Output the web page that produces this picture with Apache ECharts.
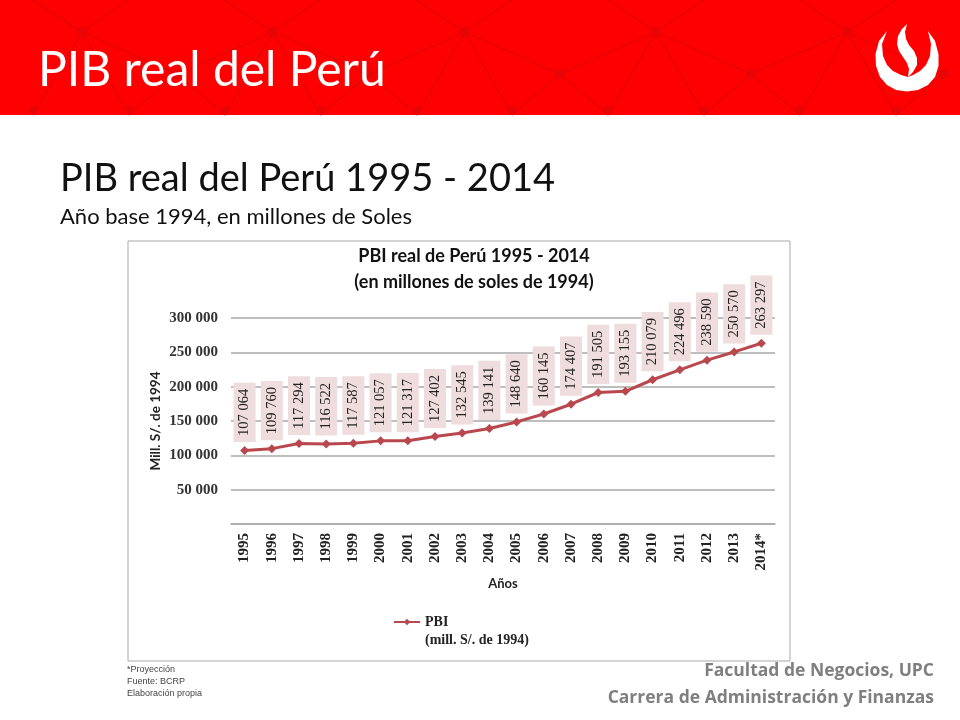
<!doctype html>
<html lang="es">
<head>
<meta charset="utf-8">
<script src="https://cdn.jsdelivr.net/npm/echarts@6/dist/echarts.min.js"></script>
<style>
    html, body { margin: 0; padding: 0; background: #fff; }
</style>
</head>
<body>
<div id="main" style="width: 960px; height: 720px;"></div>

<script type="text/javascript">
    var years = ['1995','1996','1997','1998','1999','2000','2001','2002','2003','2004','2005','2006','2007','2008','2009','2010','2011','2012','2013','2014*'];
    var pbi = [107064,109760,117294,116522,117587,121057,121317,127402,132545,139141,148640,160145,174407,191505,193155,210079,224496,238590,250570,263297];

    var sans = 'Lato, "Open Sans", sans-serif';
    var serif = '"Liberation Serif", serif';
    var lineColor = '#b9484e';

    // numbers are written with a space as thousands separator
    function spaced(v) {
        return String(v).replace(/\B(?=(\d{3})+$)/g, ' ');
    }

    // faint net pattern of the red banner
    var upperNodes = [[82,32],[273,32],[465,32],[656,32],[847,32]];
    var lowerNodes = [[177,74],[369,74],[560,74],[751,74],[943,74]];
    var topNodes = [32,128,224,320,416,512,608,704,800,896];
    var bottomNodes = [33,129,225,321,417,512,608,704,800,896];
    var net = [];
    function netLine(a, b) {
        net.push({
            type: 'line', silent: true,
            shape: { x1: a[0], y1: a[1], x2: b[0], y2: b[1] },
            style: { stroke: '#e80505', lineWidth: 1.5 }
        });
    }
    function netNode(p, r) {
        net.push({
            type: 'circle', silent: true,
            shape: { cx: p[0], cy: p[1], r: r },
            style: { fill: '#e80505' }
        });
    }
    upperNodes.forEach(function (p) {
        topNodes.forEach(function (x) { if (Math.abs(x - p[0]) < 70) netLine(p, [x, 0]); });
        lowerNodes.forEach(function (q) { if (Math.abs(q[0] - p[0]) < 110) netLine(p, q); });
        bottomNodes.forEach(function (x) { if (Math.abs(x - p[0]) < 60) netLine(p, [x, 115]); });
        netNode(p, 5);
    });
    lowerNodes.forEach(function (p) {
        bottomNodes.forEach(function (x) { if (Math.abs(x - p[0]) < 60) netLine(p, [x, 115]); });
        netNode(p, 5);
    });
    bottomNodes.forEach(function (x) { netNode([x, 110], 4); });

    var logoRing = [[887,31],[879,41],[875.5,54],[876,66],[880,77],[887,85],[896,90],[907,91.5],[918,90],[928,85],[935,77],[938.5,66],[938.5,54],[935,41],[928,31],[931,44],[930,56],[926,65],[920,71],[913,75],[908,77],[901,75],[893,71],[887,65],[883,56],[882,44]];
    var logoFlame = [[907,24],[902,29],[898,36],[897,44],[899,51],[903,57],[907,63],[909,69],[908,77],[913,72],[917,65],[917,58],[914,51],[909,45],[906,39],[905,32]];

    var myChart = echarts.init(document.getElementById('main'));
    myChart.setOption({
        backgroundColor: '#fff',
        animation: false,
        title: {
            text: 'PBI real de Perú 1995 - 2014\n(en millones de soles de 1994)',
            left: 469,
            top: 238,
            textAlign: 'center',
            textStyle: { fontFamily: sans, fontSize: 18, fontWeight: 'bold', color: '#111', lineHeight: 26 }
        },
        legend: {
            data: ['PBI'],
            left: 388,
            top: 610,
            itemWidth: 26,
            itemHeight: 8,
            itemGap: 4,
            textStyle: { fontFamily: serif, fontSize: 14, fontWeight: 'bold', color: '#222', padding: [0, 0, 0, 0] }
        },
        grid: { left: 231, right: 185, top: 318, bottom: 196 },
        xAxis: {
            type: 'category',
            data: years,
            name: 'Años',
            nameLocation: 'middle',
            nameGap: 53,
            nameTextStyle: { fontFamily: sans, fontSize: 13, fontWeight: 'bold', color: '#222' },
            axisTick: { show: false },
            axisLine: { lineStyle: { color: '#a9a9a9', width: 1.5 } },
            axisLabel: {
                rotate: 90,
                interval: 0,
                margin: 9,
                fontFamily: serif,
                fontSize: 15,
                fontWeight: 'bold',
                color: '#222'
            }
        },
        yAxis: {
            type: 'value',
            min: 0,
            max: 300000,
            interval: 50000,
            name: 'Mill. S/. de 1994',
            nameLocation: 'middle',
            nameRotate: 90,
            nameGap: 68,
            nameMoveOverlap: false,
            nameTextStyle: { fontFamily: sans, fontSize: 13.5, fontWeight: 'bold', color: '#222' },
            axisLine: { show: false },
            axisTick: { show: false },
            splitLine: { lineStyle: { color: '#a9a9a9', width: 1.5 } },
            axisLabel: {
                margin: 13,
                fontFamily: serif,
                fontSize: 15,
                fontWeight: 'bold',
                color: '#333',
                formatter: function (v) { return v === 0 ? '' : spaced(v); }
            }
        },
        series: [{
            name: 'PBI',
            type: 'line',
            data: pbi,
            symbol: 'diamond',
            symbolSize: 9,
            lineStyle: { color: lineColor, width: 3 },
            itemStyle: { color: lineColor },
            label: {
                show: true,
                position: 'top',
                distance: 4,
                rotate: 90,
                align: 'left',
                verticalAlign: 'middle',
                fontFamily: serif,
                fontSize: 14.5,
                color: '#222',
                backgroundColor: '#efdcdc',
                padding: [4, 6, 3, 6],
                formatter: function (p) { return spaced(p.value); }
            }
        }],
        graphic: [
            { type: 'rect', z: -10, silent: true, shape: { x: 0, y: 0, width: 960, height: 115 }, style: { fill: '#ff0000' } },
            { type: 'group', z: -9, silent: true, children: net },
            { type: 'polygon', silent: true, shape: { points: logoRing }, style: { fill: '#fff' } },
            { type: 'polygon', silent: true, shape: { points: logoFlame }, style: { fill: '#fff' } },
            { type: 'text', silent: true, x: 38, y: 47, style: { text: 'PIB real del Perú', fontFamily: sans, fontSize: 48, fill: '#fff' } },
            { type: 'text', silent: true, x: 60, y: 160, style: { text: 'PIB real del Perú 1995 - 2014', fontFamily: sans, fontSize: 38, fill: '#111' } },
            { type: 'text', silent: true, x: 60, y: 206, style: { text: 'Año base 1994, en millones de Soles', fontFamily: sans, fontSize: 22, fill: '#111' } },
            // chart frame
            { type: 'rect', silent: true, shape: { x: 128, y: 241, width: 662, height: 420 }, style: { fill: 'none', stroke: '#a9a9a9', lineWidth: 1 } },
            { type: 'text', silent: true, x: 425, y: 633, style: { text: '(mill. S/. de 1994)', fontFamily: serif, fontSize: 14, fontWeight: 'bold', fill: '#222' } },
            // notes
            { type: 'text', silent: true, x: 127, y: 665, style: { text: '*Proyección', fontFamily: '"Liberation Sans", sans-serif', fontSize: 9, fill: '#444' } },
            { type: 'text', silent: true, x: 127, y: 677, style: { text: 'Fuente: BCRP', fontFamily: '"Liberation Sans", sans-serif', fontSize: 9, fill: '#444' } },
            { type: 'text', silent: true, x: 127, y: 689, style: { text: 'Elaboración propia', fontFamily: '"Liberation Sans", sans-serif', fontSize: 9, fill: '#444' } },
            { type: 'text', silent: true, x: 934, y: 662, style: { text: 'Facultad de Negocios, UPC', align: 'right', fontFamily: '"Open Sans", sans-serif', fontSize: 17.5, fontWeight: 'bold', fill: '#7f7f7f' } },
            { type: 'text', silent: true, x: 934, y: 689, style: { text: 'Carrera de Administración y Finanzas', align: 'right', fontFamily: '"Open Sans", sans-serif', fontSize: 17.5, fontWeight: 'bold', fill: '#7f7f7f' } }
        ]
    });
</script>
</body>
</html>
